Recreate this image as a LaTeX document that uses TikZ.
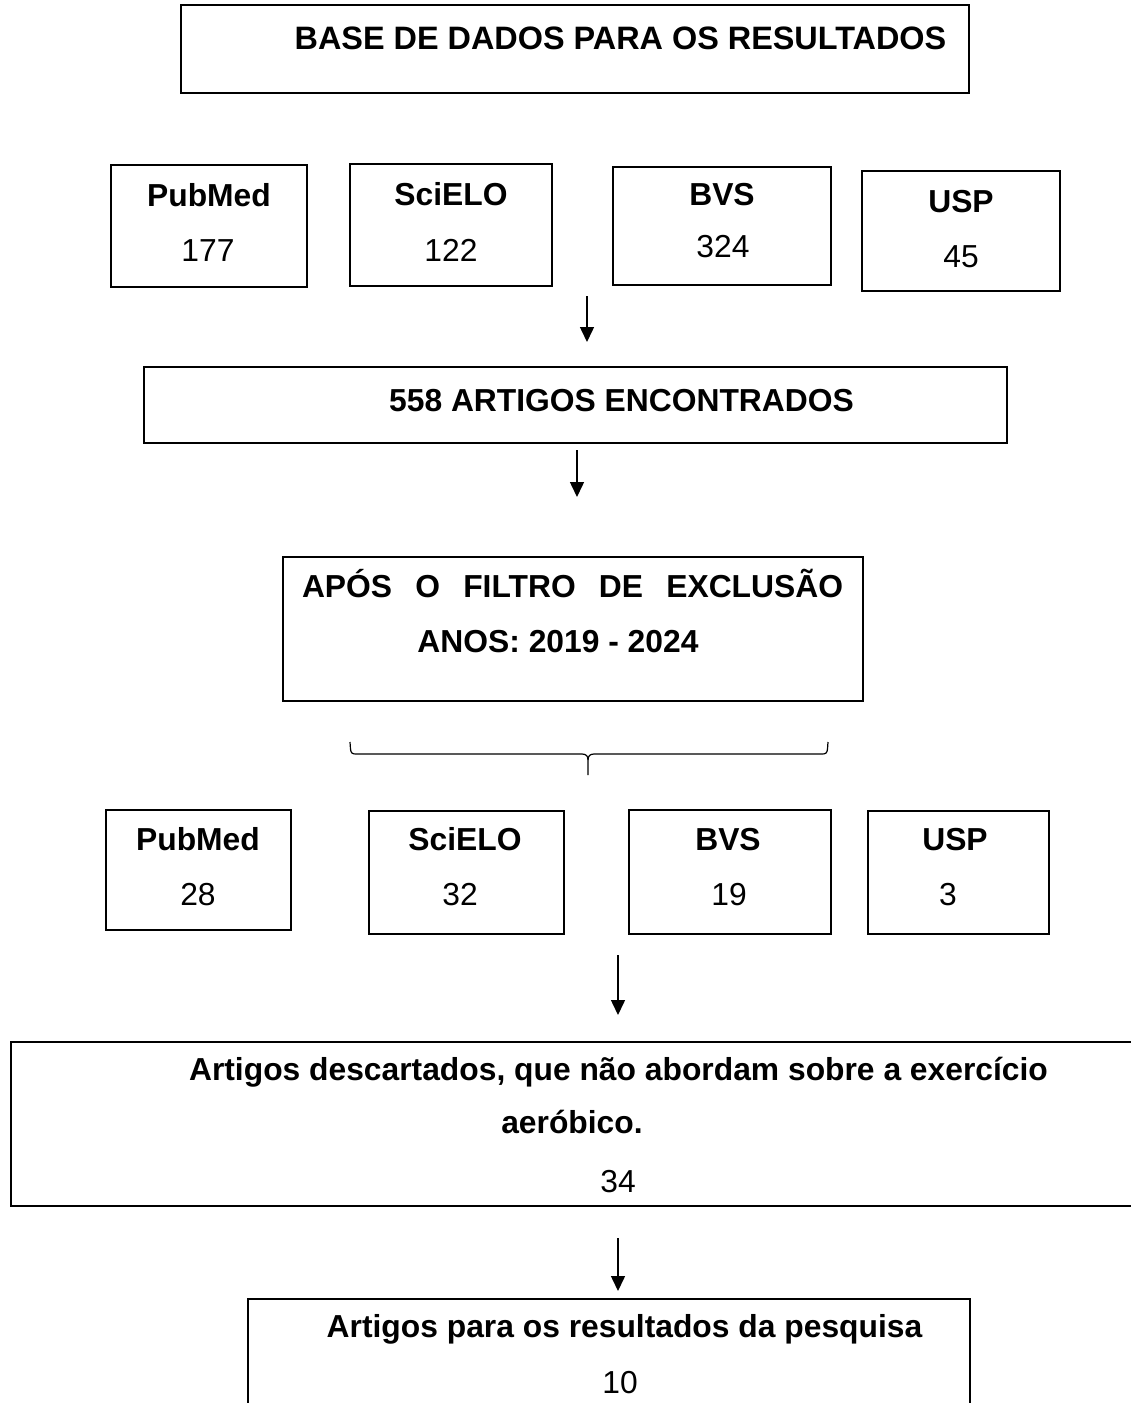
\documentclass[tikz,border=0pt]{standalone}
\usepackage{fontspec}
\setmainfont{Liberation Sans}
\usetikzlibrary{arrows.meta}
\tikzset{
  box/.style={draw, line width=1.6pt, inner sep=0pt},
  thinbox/.style={draw, line width=1.1pt, inner sep=0pt},
  lbl/.style={anchor=base, inner sep=0pt, font=\fontsize{31.8}{38}\selectfont\bfseries},
  num/.style={anchor=base, inner sep=0pt, font=\fontsize{31.8}{38}\selectfont},
  arr/.style={-{Triangle[width=14pt,length=15pt]}, line width=1.5pt},
  bracel/.style={line width=1.2pt}
}
\begin{document}
\begin{tikzpicture}[x=1pt,y=-1pt]
\useasboundingbox (0,0) rectangle (1131,1403);
% top box
\node[box, minimum width=788pt, minimum height=88pt] (top) at (575,49) {};
\node[lbl, font=\fontsize{32.4}{38}\selectfont\bfseries] (topt) at (620.5,49) {BASE DE DADOS PARA OS RESULTADOS};
% row 1
\node[box, minimum width=196pt, minimum height=122pt] (pm1) at (209,226) {};
\node[lbl] (pm1t) at (209,206) {PubMed};
\node[num] (pm1n) at (208,261) {177};
\node[box, minimum width=202pt, minimum height=122pt] (sc1) at (451,225) {};
\node[lbl] (sc1t) at (451,205) {SciELO};
\node[num] (sc1n) at (451,261) {122};
\node[box, minimum width=218pt, minimum height=118pt] (bv1) at (722,226) {};
\node[lbl] (bv1t) at (722,205) {BVS};
\node[num] (bv1n) at (723,257) {324};
\node[box, minimum width=198pt, minimum height=120pt] (us1) at (961,231) {};
\node[lbl] (us1t) at (961,212) {USP};
\node[num] (us1n) at (961,267) {45};
% arrow 1
\coordinate (a1s) at (587,296);
\coordinate (a1e) at (587,342);
\draw[arr] (a1s) -- (a1e);
% 558 box
\node[box, minimum width=863pt, minimum height=76pt] (enc) at (575.5,405) {};
\node[lbl] (enct) at (621.5,411) {558 ARTIGOS ENCONTRADOS};
% arrow 2
\coordinate (a2s) at (577,450);
\coordinate (a2e) at (577,497);
\draw[arr] (a2s) -- (a2e);
% filter box
\node[box, minimum width=580pt, minimum height=144pt] (fil) at (573,629) {};
\node[lbl] (filt1) at (572.5,597) {\makebox[541pt][s]{APÓS O FILTRO DE EXCLUSÃO}};
\node[lbl] (filt2) at (558,652) {ANOS: 2019 - 2024};
% brace
\coordinate (bl) at (350,742);
\coordinate (br) at (828,742);
\coordinate (bt) at (588,775);
\draw[bracel] (bl) -- (350.5,749) .. controls (351,753) and (352,754) .. (356,754)
  -- (582,754) .. controls (586,754) and (588,756) .. (588,760) -- (bt);
\draw[bracel] (br) -- (827.5,749) .. controls (827,753) and (826,754) .. (822,754)
  -- (594,754) .. controls (590,754) and (588,756) .. (588,760);
% row 2
\node[box, minimum width=185pt, minimum height=120pt] (pm2) at (198.5,870) {};
\node[lbl] (pm2t) at (198,850) {PubMed};
\node[num] (pm2n) at (198,905) {28};
\node[thinbox, minimum width=195pt, minimum height=123pt] (sc2) at (466.5,872.5) {};
\node[lbl] (sc2t) at (465,850) {SciELO};
\node[num] (sc2n) at (460,905) {32};
\node[box, minimum width=202pt, minimum height=124pt] (bv2) at (730,872) {};
\node[lbl] (bv2t) at (728,850) {BVS};
\node[num] (bv2n) at (729,905) {19};
\node[box, minimum width=181pt, minimum height=123pt] (us2) at (958.5,872.5) {};
\node[lbl] (us2t) at (955,850) {USP};
\node[num] (us2n) at (948,905) {3};
% arrow 3
\coordinate (a3s) at (618,955);
\coordinate (a3e) at (618,1015);
\draw[arr] (a3s) -- (a3e);
% discarded box (right side open, off page)
\draw[line width=1.6pt] (1131,1042) -- (11,1042) -- (11,1206) -- (1131,1206);
\node[lbl] (dis1) at (618.5,1080) {Artigos descartados, que não abordam sobre a exercício};
\node[lbl] (dis2) at (572,1133) {aeróbico.};
\node[num] (disn) at (618,1192) {34};
% arrow 4
\coordinate (a4s) at (618,1238);
\coordinate (a4e) at (618,1291);
\draw[arr] (a4s) -- (a4e);
% final box (bottom cut off)
\draw[line width=1.6pt] (248,1403) -- (248,1299) -- (970,1299) -- (970,1403);
\node[lbl] (fin) at (624.5,1337) {Artigos para os resultados da pesquisa};
\node[num] (finn) at (620,1393) {10};
\end{tikzpicture}
\end{document}
